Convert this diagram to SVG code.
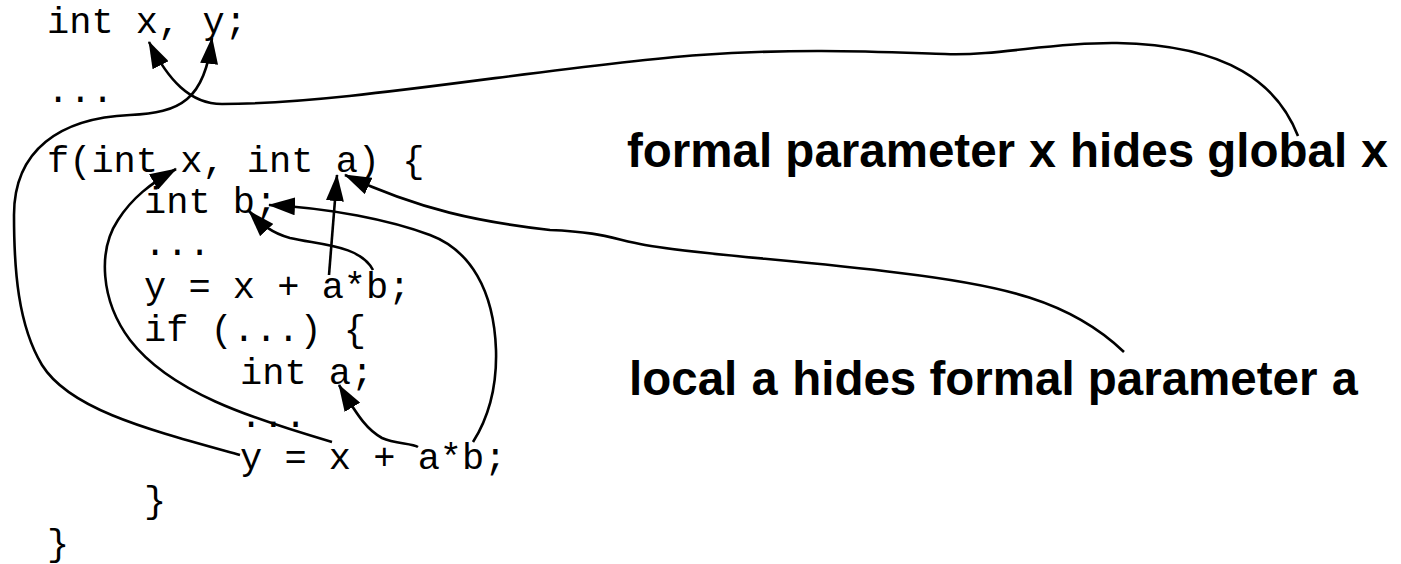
<svg xmlns="http://www.w3.org/2000/svg" width="1401" height="564" viewBox="0 0 1401 564">
<style>
.code{font-family:"Liberation Mono","Courier New",monospace;font-size:37px;fill:#000}
.lbl{font-family:"Liberation Sans",Arial,sans-serif;font-weight:bold;font-size:47.5px;fill:#000}
.mono{font-family:"Liberation Mono","Courier New",monospace;font-weight:bold}
.c{fill:none;stroke:#000;stroke-width:2.6;marker-end:url(#ah)}
</style>
<defs>
<marker id="ah" markerUnits="userSpaceOnUse" markerWidth="28" markerHeight="18" refX="26" refY="9" orient="auto" viewBox="0 0 28 18">
<path d="M0,0 L27,9 L0,18 z" fill="#000"/>
</marker>
</defs>
<rect width="1401" height="564" fill="#fff"/>
<g id="code">
<text class="code" x="47" y="33">int x, y;</text>
<text class="code" x="47" y="102">...</text>
<text class="code" x="47" y="172">f(int x, int a) {</text>
<text class="code" x="144" y="213">int b;</text>
<text class="code" x="144" y="255">...</text>
<text class="code" x="144" y="298">y = x + a*b;</text>
<text class="code" x="144" y="341">if (...) {</text>
<text class="code" x="240" y="384">int a;</text>
<text class="code" x="240" y="427">...</text>
<text class="code" x="240" y="469">y = x + a*b;</text>
<text class="code" x="144" y="512">}</text>
<text class="code" x="47" y="555">}</text>
</g>
<g id="label-x">
<text class="lbl" x="627" y="167">formal parameter <tspan class="mono">x</tspan> hides global <tspan class="mono">x</tspan></text>
</g>
<g id="label-a">
<text class="lbl" x="629" y="395">local <tspan class="mono">a</tspan> hides formal parameter <tspan class="mono">a</tspan></text>
</g>
<g id="connectors">
<path class="c" d="M1298,136 C1278,85 1230,45 1117,43 C1050,42 1000,56 945,54 C880,52 800,48 700,55 C550,66 350,104 222,104 C190,104 168,80 149,42"/>
<path class="c" d="M240,455 C150,430 70,410 42,365 C18,325 14,270 14,215 C14,150 60,118 130,115 C180,113 205,100 212,38"/>
<path class="c" d="M332,442 C250,418 170,392 130,340 C100,300 98,250 118,220 C132,198 150,184 176,169"/>
<path class="c" d="M473,442 C490,415 497,385 496,350 C494,290 470,250 430,235 C390,220 330,208 269,205"/>
<path class="c" d="M373,270 C360,245 320,245 290,238 C272,233 262,225 249,211"/>
<path class="c" d="M329,275 L337,175"/>
<path class="c" d="M1124,352 C1070,300 1000,285 900,273 C800,260 700,255 645,245 C610,238 600,232 550,230 C480,222 420,210 345,175"/>
<path class="c" d="M418,447 C412,443 395,444 382,438 C368,430 360,420 339,385"/>
</g>
</svg>
